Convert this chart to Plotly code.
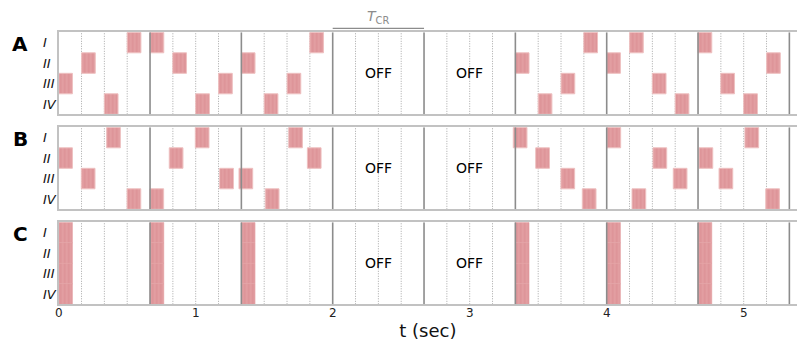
import plotly.graph_objects as go

# ---------------- data ----------------
ROWS = ["I", "II", "III", "IV"]
PANELS = ["A", "B", "C"]
CYCLE = 2.0 / 3.0           # s, one cycle (T_CR)
N_CYCLES = 8
OFF_CYCLES = [3, 4]
BAR_DUR = 0.1               # s, burst duration
X_TICKS = [0, 1, 2, 3, 4, 5]

A_onsets = [0.000, 0.167, 0.333, 0.500,
            0.667, 0.833, 1.000, 1.167,
            1.333, 1.500, 1.667, 1.833,
            3.333, 3.500, 3.667, 3.833,
            4.000, 4.167, 4.333, 4.500,
            4.667, 4.833, 5.000, 5.167]
A_rows = ["III", "II", "IV", "I",
          "I", "II", "IV", "III",
          "II", "IV", "III", "I",
          "II", "IV", "III", "I",
          "II", "I", "III", "IV",
          "I", "III", "IV", "II"]

B_onsets = [0.000, 0.165, 0.350, 0.499,
            0.666, 0.807, 0.997, 1.175,
            1.316, 1.508, 1.679, 1.815,
            3.318, 3.482, 3.666, 3.822,
            4.002, 4.185, 4.338, 4.486,
            4.674, 4.820, 5.009, 5.161]
B_rows = ["II", "III", "I", "IV",
          "IV", "II", "I", "III",
          "III", "IV", "I", "II",
          "I", "II", "III", "IV",
          "I", "IV", "II", "III",
          "II", "III", "I", "IV"]

C_onsets = [0.000, 0.667, 1.333, 3.333, 4.000, 4.667]   # all rows at once

# ---------------- layout constants ----------------
W, H = 797, 341
X_LEFT_PX = 58.7
PX_PER_S = 137.0
X_MAX = (W - X_LEFT_PX) / PX_PER_S
PANEL_PX = {"A": (32.3, 114.3), "B": (127.3, 209.3), "C": (222.3, 304.3)}

BAR_COLOR = "rgb(226,158,161)"
STRIPE_COLOR = "rgb(212,128,136)"
EDGE_COLOR = "rgb(238,192,192)"
FONT = "DejaVu Sans"


def row_pos(r):
    return len(ROWS) - 1 - ROWS.index(r) + 0.5


fig = go.Figure()

panel_data = {
    "A": (A_onsets, A_rows),
    "B": (B_onsets, B_rows),
    "C": ([t for t in C_onsets for _ in ROWS], [r for _ in C_onsets for r in ROWS]),
}

for i, p in enumerate(PANELS):
    onsets, rows = panel_data[p]
    sfx = "" if i == 0 else str(i + 1)
    fig.add_trace(go.Bar(
        orientation="h",
        base=onsets,
        x=[BAR_DUR] * len(onsets),
        y=[row_pos(r) for r in rows],
        width=1.0,
        marker=dict(
            color=BAR_COLOR,
            line=dict(color=EDGE_COLOR if p != "C" else BAR_COLOR,
                      width=1 if p != "C" else 0.6),
            pattern=dict(shape="|", fillmode="overlay", fgcolor=STRIPE_COLOR,
                         size=4, solidity=0.3),
        ),
        xaxis="x" + sfx, yaxis="y" + sfx,
        hoverinfo="skip", showlegend=False,
    ))

layout = dict(
    template="none",
    width=W, height=H,
    margin=dict(l=0, r=0, t=0, b=0, pad=0, autoexpand=False),
    paper_bgcolor="white", plot_bgcolor="white",
    barmode="overlay",
    font=dict(family=FONT, color="black"),
    showlegend=False,
    hovermode=False,
)

shapes = []
annotations = []

for i, p in enumerate(PANELS):
    sfx = "" if i == 0 else str(i + 1)
    top_px, bot_px = PANEL_PX[p]
    ydom = [1 - bot_px / H, 1 - top_px / H]
    xname = "xaxis" + sfx
    yname = "yaxis" + sfx
    last = (i == len(PANELS) - 1)
    layout[xname] = dict(
        domain=[X_LEFT_PX / W, 1.0],
        range=[0, X_MAX],
        anchor="y" + sfx,
        automargin=False,
        showgrid=False, zeroline=False,
        showline=True, mirror=True, linecolor="#c2c2c2", linewidth=1.5,
        tickvals=X_TICKS if last else [],
        showticklabels=last,
        ticks="",
        ticklabelstandoff=-3,
        tickfont=dict(size=12, color="#222"),
        fixedrange=True,
    )
    if last:
        layout[xname]["title"] = dict(text="t (sec)", font=dict(size=18, color="#111"),
                                      standoff=7)
    layout[yname] = dict(
        domain=ydom,
        range=[0, len(ROWS)],
        anchor="x" + sfx,
        automargin=False,
        showgrid=False, zeroline=False,
        showline=True, linecolor="#c2c2c2", linewidth=1.5,
        showticklabels=False, ticks="",
        fixedrange=True,
    )

    xr = "x" + sfx
    yr = "y" + sfx
    # cycle boundaries and quarter-cycle dotted lines
    for c in range(N_CYCLES + 1):
        t0 = c * CYCLE
        if 0 < t0 <= X_MAX:
            shapes.append(dict(type="line", xref=xr, yref=yr, x0=t0, x1=t0, y0=0, y1=len(ROWS),
                               line=dict(color="#8c8c8c", width=1.6), layer="above"))
        for q in range(1, 4):
            tq = t0 + q * CYCLE / 4
            if tq < X_MAX:
                shapes.append(dict(type="line", xref=xr, yref=yr, x0=tq, x1=tq, y0=0, y1=len(ROWS),
                                   line=dict(color="#a6a6a6", width=1, dash="1px,1.5px"),
                                   layer="below"))

    # row labels (left aligned)
    for r in ROWS:
        annotations.append(dict(xref="paper", yref=yr, x=40.5 / W, y=row_pos(r),
                                text="<i>%s</i>" % r, showarrow=False, xanchor="left",
                                yanchor="middle", font=dict(size=13, color="#111")))
    # panel letter
    annotations.append(dict(xref="paper", yref=yr, x=20 / W, y=row_pos(ROWS[0]) - 0.05,
                            text="<b>%s</b>" % p, showarrow=False, xanchor="center",
                            yanchor="middle", font=dict(size=20, color="black")))
    # OFF labels
    for c in OFF_CYCLES:
        annotations.append(dict(xref=xr, yref=yr, x=(c + 0.5) * CYCLE, y=len(ROWS) / 2,
                                text="OFF", showarrow=False, xanchor="center",
                                yanchor="middle", font=dict(size=14, color="black")))

# T_CR bracket above panel A
tc0 = OFF_CYCLES[0] * CYCLE
shapes.append(dict(type="line", xref="x", yref="paper", x0=tc0, x1=tc0 + CYCLE,
                   y0=1 - 28.3 / H, y1=1 - 28.3 / H, line=dict(color="#8c8c8c", width=1.3)))
annotations.append(dict(xref="x", yref="paper", x=tc0 + CYCLE / 2, y=1 - 17 / H,
                        text="<i>T</i><sub>CR</sub>", showarrow=False, xanchor="center",
                        yanchor="middle", font=dict(size=14, color="#8c8c8c")))

layout["shapes"] = shapes
layout["annotations"] = annotations
fig.update_layout(**layout)

fig.write_html("out.html")
